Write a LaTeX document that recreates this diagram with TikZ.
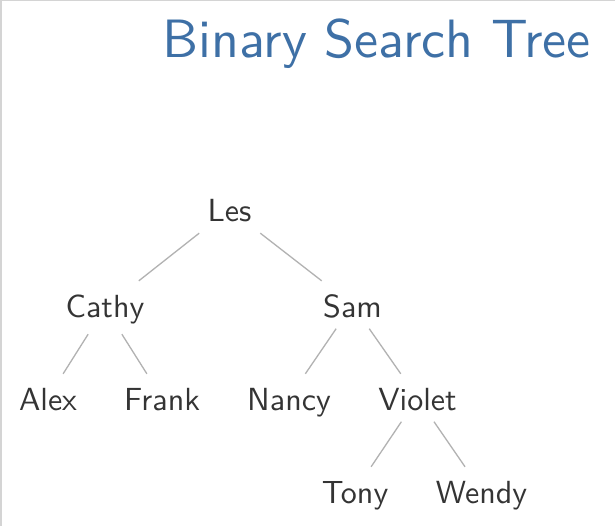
\documentclass[tikz,border=0pt]{standalone}
\usepackage{fontspec}
\newfontfamily\slidesans{lmsans10-regular.otf}
\definecolor{titleblue}{RGB}{62,112,166}
\definecolor{edgegray}{RGB}{178,178,178}
\definecolor{framegray}{RGB}{212,212,212}
\definecolor{nodetext}{RGB}{52,52,52}
\tikzset{
  nd/.style={font=\slidesans\fontsize{32}{38}\selectfont, text=nodetext, inner sep=0pt,
    text height=36pt, text depth=11.5pt, minimum width=80pt, anchor=base},
  edgeline/.style={draw=edgegray, line width=1.3pt},
  titletext/.style={font=\slidesans\fontsize{54}{60}\selectfont, text=titleblue, inner sep=0pt, anchor=base west}
}
\begin{document}
\begin{tikzpicture}[x=1pt,y=-1pt]
\useasboundingbox[fill=white] (0,0) rectangle (615,526);
\draw[framegray, line width=1.5pt] (0.75,526) -- (0.75,0.75) -- (615,0.75);
\node[titletext] (title) at (162,58) {Binary Search Tree};
\node[nd] (les) at (229.5,221.5) {Les};
\node[nd, text depth=17pt] (cathy) at (105,317) {Cathy};
\node[nd] (sam) at (352.5,317) {Sam};
\node[nd] (alex) at (48,410) {Alex};
\node[nd] (frank) at (162,410) {Frank};
\node[nd] (nancy) at (289,410) {Nancy};
\node[nd] (violet) at (417.5,410) {Violet};
\node[nd] (tony) at (355,503) {Tony};
\node[nd] (wendy) at (481.5,503) {Wendy};
\draw[edgeline] (les) -- (cathy);
\draw[edgeline] (les) -- (sam);
\draw[edgeline] (cathy) -- (alex);
\draw[edgeline] (cathy) -- (frank);
\draw[edgeline] (sam) -- (nancy);
\draw[edgeline] (sam) -- (violet);
\draw[edgeline] (violet) -- (tony);
\draw[edgeline] (violet) -- (wendy);
\end{tikzpicture}
\end{document}
